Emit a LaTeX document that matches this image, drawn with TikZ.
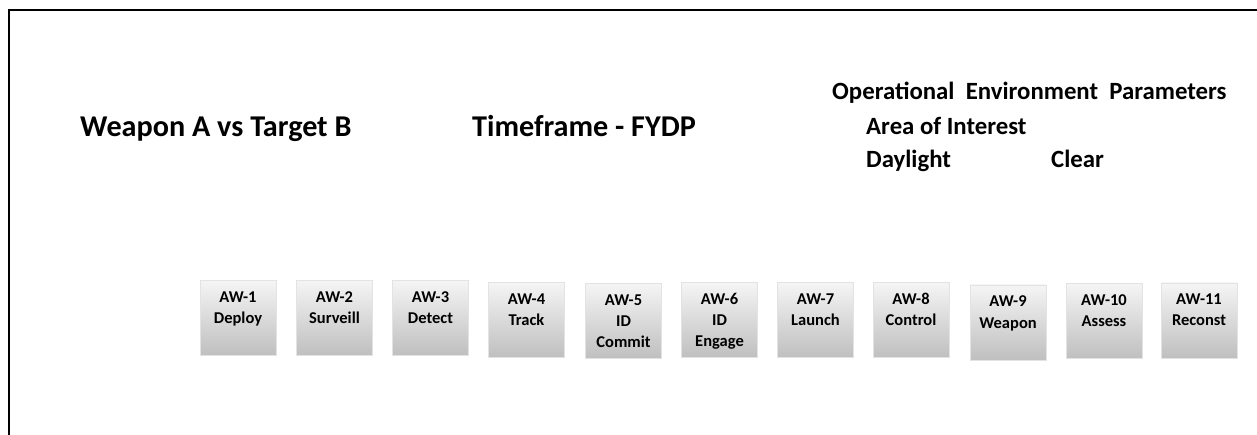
\documentclass[tikz,border=0pt]{standalone}
\usepackage{fontspec}
\setmainfont{Carlito}
\newcommand{\awlabel}[1]{\parbox[t][75pt][t]{76pt}{\centering\rule{0pt}{22pt}#1}}
\begin{document}
\begin{tikzpicture}[x = 1pt, y = -1pt,
		awbox/.style = {minimum width = 76pt, minimum height = 75pt, inner sep = 0pt,
			top color = gray!8, bottom color = gray!50, draw = gray!22, line width = 0.6pt,
			font = \fontsize{16.5}{21}\selectfont\bfseries},
		title/.style = {anchor = base west, inner sep = 0pt, font = \fontsize{30.2}{34}\selectfont\bfseries},
		param/.style = {anchor = base west, inner sep = 0pt, font = \fontsize{24.8}{29}\selectfont\bfseries}]
		\useasboundingbox (0,0) rectangle (1257,435);
		% frame
		\draw [line width = 2pt] (8.5,435) -- (8.5,10) -- (1257,10);
		% headings
		\node [title] (wpn) at (80,137) {Weapon A vs Target B};
		\node [title] (tf) at (472,137) {Timeframe - FYDP};
		\node [param] (oep) at (832,100) {Operational\ \ Environment\ \ Parameters};
		\node [param] (aoi) at (866,135) {Area of Interest};
		\node [param] (day) at (866,168) {Daylight};
		\node [param] (clr) at (1051,168) {Clear};
		% activity boxes
		\foreach \i/\cx/\cy/\txt in {1/238/318/{AW-1\\Deploy}, 2/334.5/318/{AW-2\\Surveill},
			3/430.5/318/{AW-3\\Detect}, 4/526.5/320/{AW-4\\Track}, 5/623.5/321/{AW-5\\ID\\Commit},
			6/719.5/320/{AW-6\\ID\\Engage}, 7/815.5/320/{AW-7\\Launch}, 8/911/320/{AW-8\\Control},
			9/1008/322.5/{AW-9\\Weapon}, 10/1104/321/{AW-10\\Assess}, 11/1199/320.5/{AW-11\\Reconst}}
			\node [awbox] (aw\i) at (\cx,\cy) {\awlabel{\txt}};
\end{tikzpicture}
\end{document}
